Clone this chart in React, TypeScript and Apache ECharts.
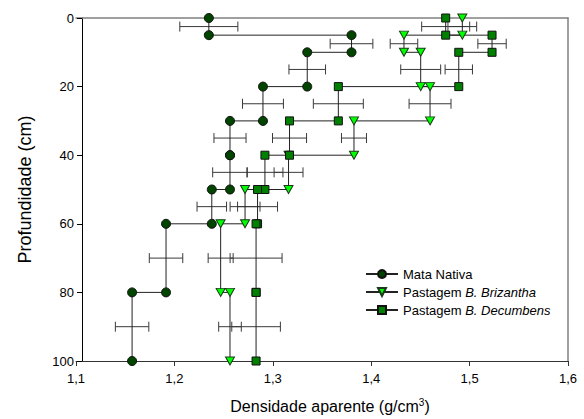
import React, { useEffect, useRef } from "react";
import * as echarts from "echarts";

const FONT = "Liberation Sans, Arial, sans-serif";

// Layer boundaries (cm) and layer mid-depths for error bars
const depthTop = [0, 5, 10, 20, 30, 40, 50, 60, 80];
const depthBottom = [5, 10, 20, 30, 40, 50, 60, 80, 100];
const layerMid = [2.5, 7.5, 15, 25, 35, 45, 55, 70, 90];

// Bulk density (g/cm3) per layer
const mataValues = [1.235, 1.38, 1.335, 1.29, 1.2565, 1.2565, 1.238, 1.1915, 1.157];
const mataErr = [0.0295, 0.0217, 0.0186, 0.0208, 0.0163, 0.0176, 0.015, 0.017, 0.017];

const brizValues = [1.4926, 1.4333, 1.4503, 1.4598, 1.3825, 1.316, 1.2718, 1.247, 1.2565];
const brizErr = [0.0146, 0.014, 0.0203, 0.0213, 0.0127, 0.0147, 0.0152, 0.0127, 0.0115];

const decValues = [1.4757, 1.5228, 1.489, 1.3666, 1.317, 1.292, 1.2845, 1.283, 1.283];
const decErr = [0.0244, 0.0144, 0.0139, 0.0254, 0.0173, 0.0183, 0.0203, 0.0264, 0.0247];

const seriesNames = ["Mata Nativa", "Pastagem B. Brizantha", "Pastagem B. Decumbens"];
const xTicks = [1.1, 1.2, 1.3, 1.4, 1.5, 1.6];

function stepPoints(values: number[]) {
  return values.flatMap((v, i) => [
    [v, depthTop[i]],
    [v, depthBottom[i]],
  ]);
}

function errData(values: number[], errs: number[]) {
  return values.map((v, i) => [v, layerMid[i], errs[i]]);
}

function errSeries(values: number[], errs: number[]) {
  return {
    type: "custom",
    silent: true,
    z: 1,
    data: errData(values, errs),
    renderItem: (params: any, api: any) => {
      const x = api.value(0);
      const y = api.value(1);
      const e = api.value(2);
      const p1 = api.coord([x - e, y]);
      const p2 = api.coord([x + e, y]);
      const style = { stroke: "#3a3a3a", lineWidth: 1 };
      const cap = 5;
      return {
        type: "group",
        children: [
          { type: "line", shape: { x1: p1[0], y1: p1[1], x2: p2[0], y2: p2[1] }, style },
          { type: "line", shape: { x1: p1[0], y1: p1[1] - cap, x2: p1[0], y2: p1[1] + cap }, style },
          { type: "line", shape: { x1: p2[0], y1: p2[1] - cap, x2: p2[0], y2: p2[1] + cap }, style },
        ],
      };
    },
  };
}

export default function App() {
  const ref = useRef<HTMLDivElement>(null);
  useEffect(() => {
    document.body.style.margin = "0";
    const chart = echarts.init(ref.current!, null, { renderer: "svg" });
    const lineStyle = { color: "#222", width: 1 };
    const option: any = {
      animation: false,
      backgroundColor: "#fff",
      textStyle: { fontFamily: FONT },
      grid: { left: 76, right: 16, top: 18, bottom: 56 },
      legend: {
        orient: "vertical",
        left: 365,
        top: 267,
        padding: 0,
        itemWidth: 32,
        itemHeight: 10,
        itemGap: 4,
        data: seriesNames,
        textStyle: {
          fontFamily: FONT,
          fontSize: 13,
          lineHeight: 14,
          color: "#000",
          rich: { i: { fontStyle: "italic", fontFamily: FONT, fontSize: 13, lineHeight: 14, color: "#000" } },
        },
        formatter: (name: string) => name.replace(/(B\. \w+)/, "{i|$1}"),
      },
      xAxis: [
        {
          type: "value",
          min: 1.1,
          max: 1.6,
          interval: 0.1,
          name: "Densidade aparente (g/cm{sup|3})",
          nameLocation: "middle",
          nameGap: 36,
          nameTextStyle: {
            fontFamily: FONT,
            fontSize: 16,
            color: "#000",
            padding: [0, 0, 0, 16],
            rich: { sup: { fontSize: 10, fontFamily: FONT, color: "#000", verticalAlign: "top", padding: [0, 0, 8, 0] } },
          },
          axisLine: { onZero: false, lineStyle: { color: "#333", width: 1 } },
          axisTick: { show: true, inside: false, length: 5, lineStyle: { color: "#333" } },
          axisLabel: {
            fontFamily: FONT,
            fontSize: 13,
            color: "#000",
            margin: 11,
            formatter: (v: number) => {
              const t = xTicks.find((k) => Math.abs(k - v) < 1e-6);
              return t === undefined ? "" : t.toFixed(1).replace(".", ",");
            },
          },
          splitLine: { show: false },
        },
        {
          type: "value",
          position: "top",
          min: 1.1,
          max: 1.6,
          axisLine: { show: true, onZero: false, lineStyle: { color: "#808080", width: 1.5 } },
          axisTick: { show: false },
          axisLabel: { show: false },
          splitLine: { show: false },
        },
      ],
      yAxis: [
        {
          type: "value",
          inverse: true,
          min: 0,
          max: 100,
          interval: 20,
          offset: -6,
          name: "Profundidade (cm)",
          nameLocation: "middle",
          nameGap: 48,
          nameTextStyle: { fontFamily: FONT, fontSize: 18, color: "#000" },
          axisLine: { show: true, onZero: false, lineStyle: { color: "#000", width: 1 } },
          axisTick: { show: true, inside: false, length: 5, lineStyle: { color: "#000" } },
          axisLabel: { fontFamily: FONT, fontSize: 13, color: "#000", margin: 8 },
          splitLine: { show: false },
        },
        {
          type: "value",
          position: "right",
          inverse: true,
          min: 0,
          max: 100,
          axisLine: { show: true, onZero: false, lineStyle: { color: "#808080", width: 1.5 } },
          axisTick: { show: false },
          axisLabel: { show: false },
          splitLine: { show: false },
        },
      ],
      series: [
        errSeries(mataValues, mataErr),
        errSeries(brizValues, brizErr),
        errSeries(decValues, decErr),
        {
          name: seriesNames[0],
          type: "line",
          z: 3,
          data: stepPoints(mataValues),
          symbol: "circle",
          symbolSize: 9,
          showAllSymbol: true,
          lineStyle,
          itemStyle: { color: "#004400", borderColor: "#111", borderWidth: 1 },
        },
        {
          name: seriesNames[1],
          type: "line",
          z: 3,
          data: stepPoints(brizValues),
          symbol: "triangle",
          symbolSize: [9, 8],
          symbolRotate: 180,
          showAllSymbol: true,
          lineStyle,
          itemStyle: { color: "#00ff00", borderColor: "#1a3a1a", borderWidth: 1 },
        },
        {
          name: seriesNames[2],
          type: "line",
          z: 3,
          data: stepPoints(decValues),
          symbol: "rect",
          symbolSize: 8,
          showAllSymbol: true,
          lineStyle,
          itemStyle: { color: "#008000", borderColor: "#111", borderWidth: 1 },
        },
      ],
    };
    chart.setOption(option);
    return () => chart.dispose();
  }, []);
  return (
    <div
      ref={ref}
      style={{ position: "absolute", left: 0, top: 0, width: 584, height: 419, background: "#fff" }}
    />
  );
}
